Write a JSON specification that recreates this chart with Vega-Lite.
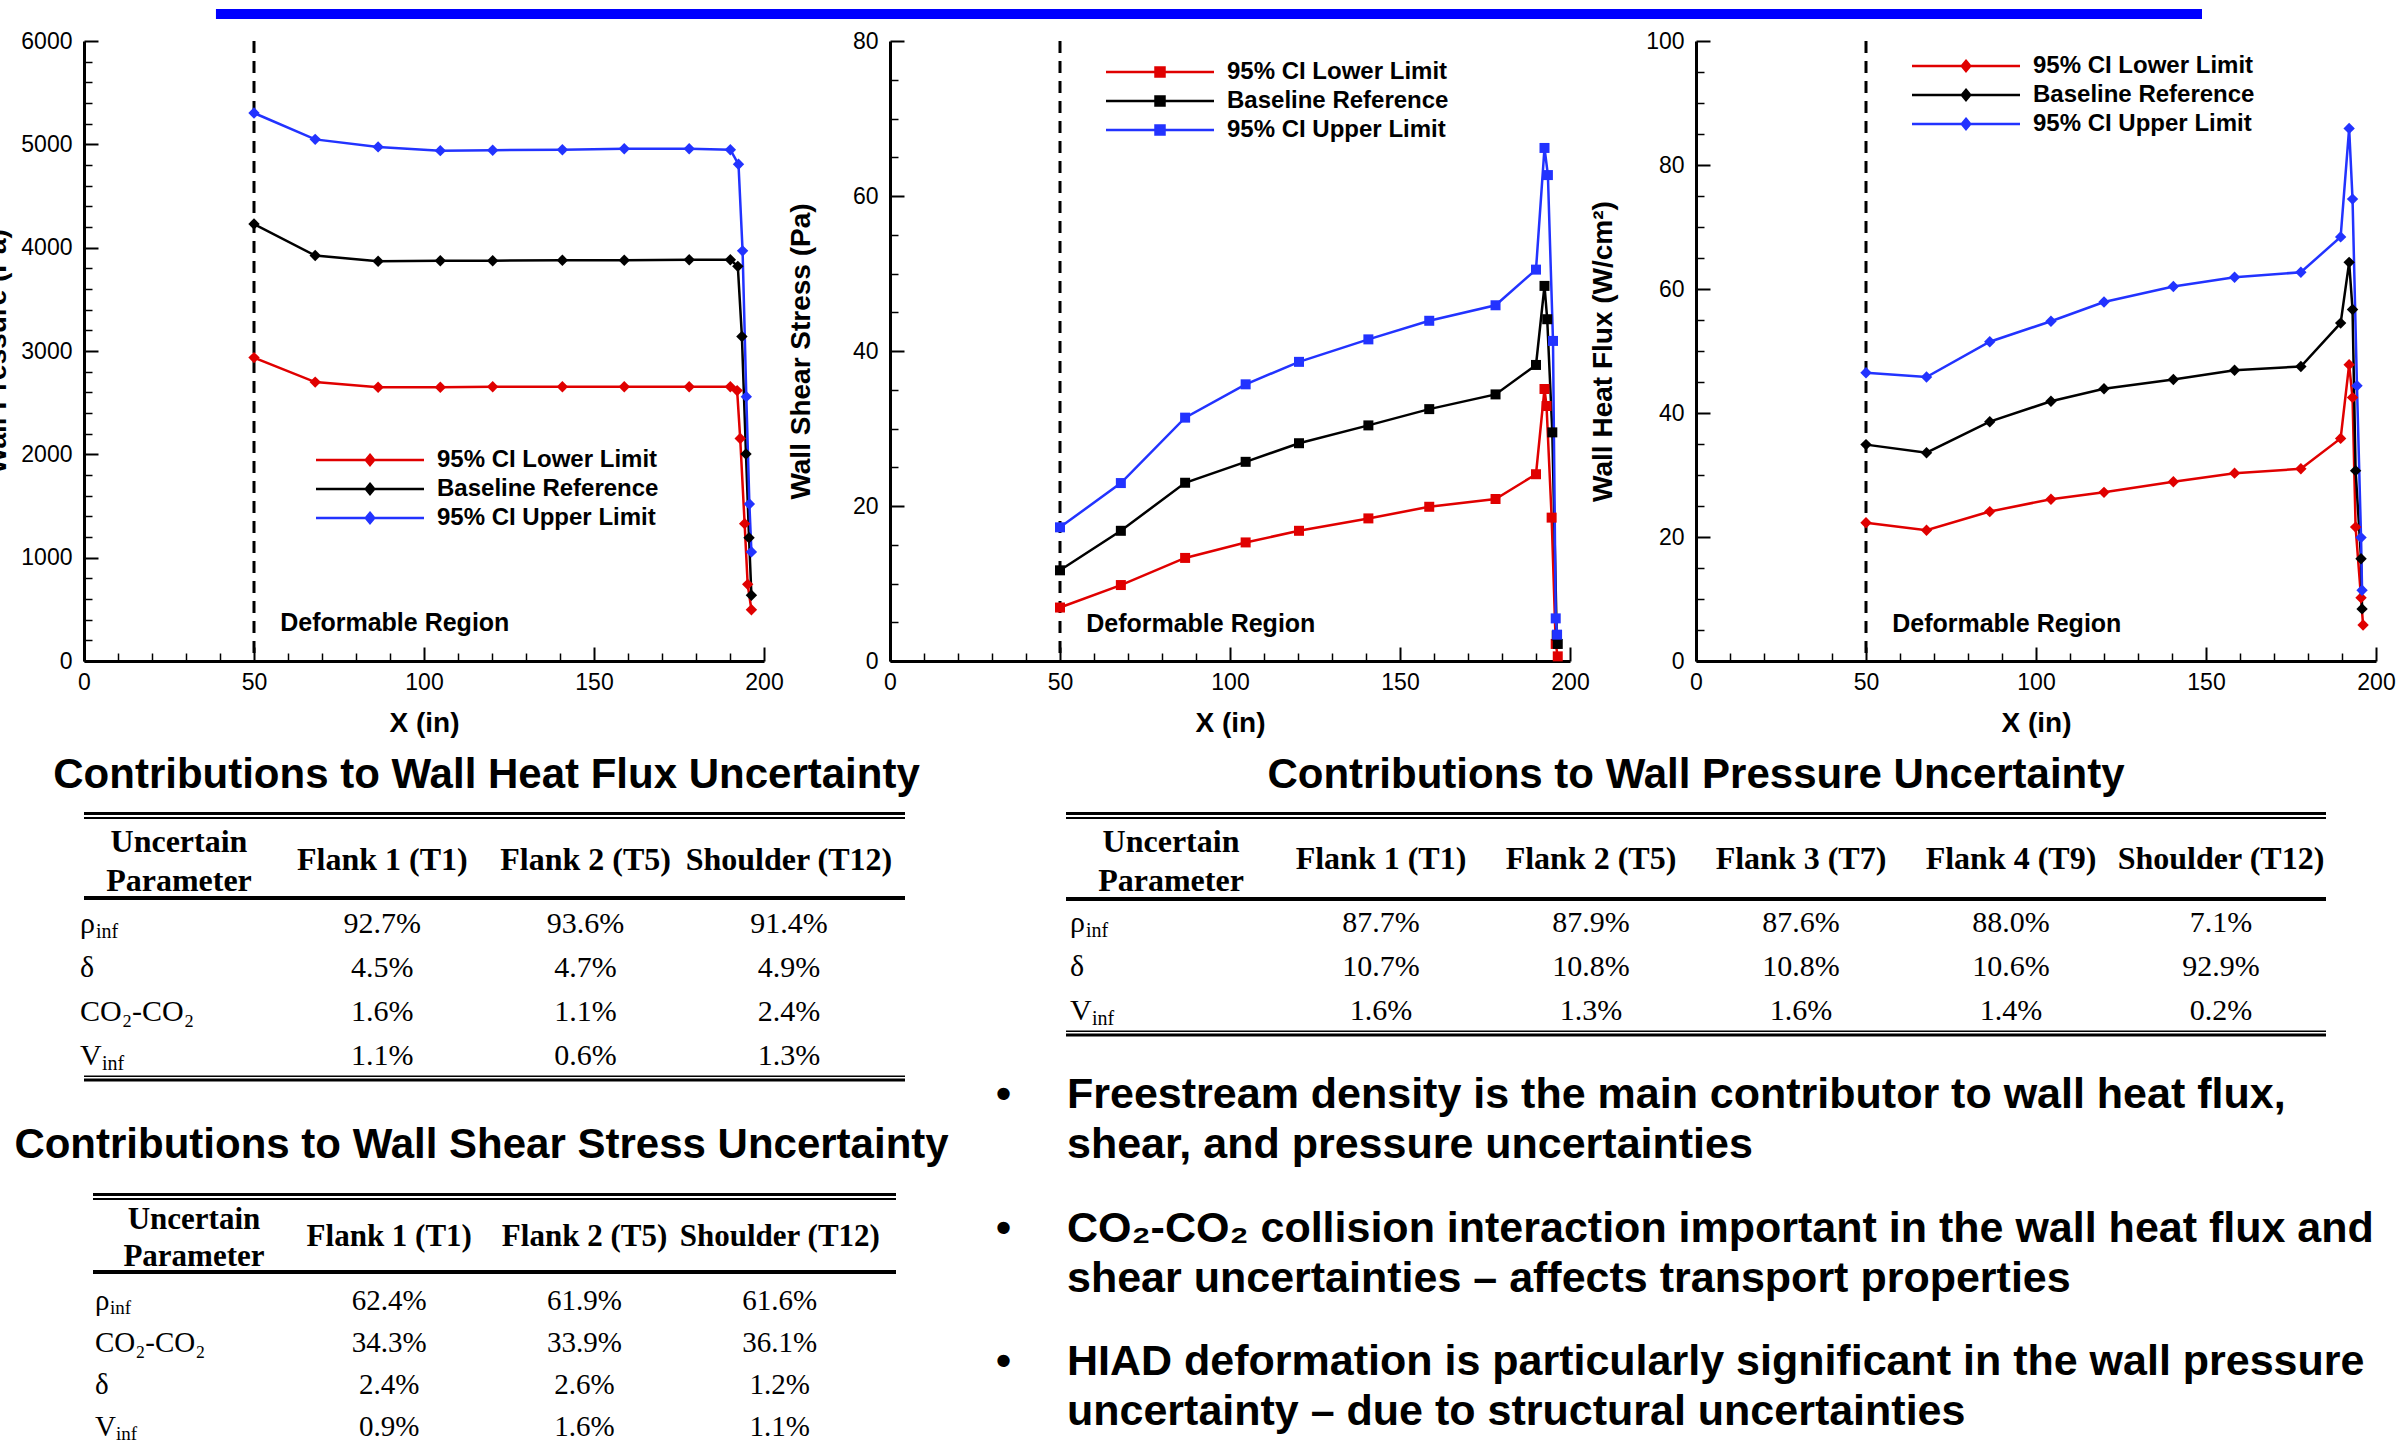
{
  "$schema": "https://vega.github.io/schema/vega-lite/v6.json",
  "background": "white",
  "padding": {"left": -17, "top": 9, "right": 0, "bottom": 0},
  "autosize": {"type": "pad"},
  "bounds": "flush",
  "spacing": 22,
  "datasets": {
    "t1lab": [{"r": 1, "p": "ρ", "s": "inf"}, {"r": 2, "p": "δ"}, {"r": 3, "p": "CO₂-CO₂"}, {"r": 4, "p": "V", "s": "inf"}],
    "t2lab": [{"r": 1, "p": "ρ", "s": "inf"}, {"r": 2, "p": "δ"}, {"r": 3, "p": "V", "s": "inf"}],
    "t3lab": [{"r": 1, "p": "ρ", "s": "inf"}, {"r": 2, "p": "CO₂-CO₂"}, {"r": 3, "p": "δ"}, {"r": 4, "p": "V", "s": "inf"}]
  },
  "vconcat": [
    {
      "width": 2118, "height": 10,
      "data": {"values": [{}]},
      "mark": {"type": "rect", "color": "#0000ff"},
      "encoding": {
        "x": {"datum": 0.0623, "type": "quantitative", "scale": {"domain": [0, 1]}, "axis": null},
        "x2": {"datum": 1},
        "y": {"datum": 0, "type": "quantitative", "scale": {"domain": [0, 1]}, "axis": null},
        "y2": {"datum": 1}
      }
    },
    {
      "bounds": "flush",
      "spacing": 771,
      "vconcat": [
        {
          "bounds": "flush",
          "spacing": 126,
          "resolve": {"scale": {"color": "independent"}, "legend": {"color": "independent"}},
          "hconcat": [
            {
              "width": 680, "height": 620,
              "data": {"values": [
                {"x": 50, "y": 2936, "s": "95% CI Lower Limit"}, {"x": 68, "y": 2699, "s": "95% CI Lower Limit"}, {"x": 86.5, "y": 2649, "s": "95% CI Lower Limit"}, {"x": 104.8, "y": 2649, "s": "95% CI Lower Limit"}, {"x": 120.2, "y": 2654, "s": "95% CI Lower Limit"}, {"x": 140.7, "y": 2654, "s": "95% CI Lower Limit"}, {"x": 158.9, "y": 2654, "s": "95% CI Lower Limit"}, {"x": 178, "y": 2654, "s": "95% CI Lower Limit"}, {"x": 190.1, "y": 2654, "s": "95% CI Lower Limit"}, {"x": 192.1, "y": 2617, "s": "95% CI Lower Limit"}, {"x": 193, "y": 2153, "s": "95% CI Lower Limit"}, {"x": 194.3, "y": 1329, "s": "95% CI Lower Limit"}, {"x": 195.2, "y": 742, "s": "95% CI Lower Limit"}, {"x": 196.3, "y": 496, "s": "95% CI Lower Limit"},
                {"x": 50, "y": 4229, "s": "Baseline Reference"}, {"x": 68, "y": 3924, "s": "Baseline Reference"}, {"x": 86.5, "y": 3869, "s": "Baseline Reference"}, {"x": 104.8, "y": 3874, "s": "Baseline Reference"}, {"x": 120.2, "y": 3874, "s": "Baseline Reference"}, {"x": 140.7, "y": 3878, "s": "Baseline Reference"}, {"x": 158.9, "y": 3878, "s": "Baseline Reference"}, {"x": 178, "y": 3883, "s": "Baseline Reference"}, {"x": 190.1, "y": 3883, "s": "Baseline Reference"}, {"x": 192.3, "y": 3819, "s": "Baseline Reference"}, {"x": 193.5, "y": 3141, "s": "Baseline Reference"}, {"x": 194.7, "y": 2003, "s": "Baseline Reference"}, {"x": 195.6, "y": 1193, "s": "Baseline Reference"}, {"x": 196.3, "y": 637, "s": "Baseline Reference"},
                {"x": 50, "y": 5303, "s": "95% CI Upper Limit"}, {"x": 68, "y": 5048, "s": "95% CI Upper Limit"}, {"x": 86.5, "y": 4975, "s": "95% CI Upper Limit"}, {"x": 104.8, "y": 4939, "s": "95% CI Upper Limit"}, {"x": 120.2, "y": 4943, "s": "95% CI Upper Limit"}, {"x": 140.7, "y": 4948, "s": "95% CI Upper Limit"}, {"x": 158.9, "y": 4957, "s": "95% CI Upper Limit"}, {"x": 178, "y": 4957, "s": "95% CI Upper Limit"}, {"x": 190.1, "y": 4948, "s": "95% CI Upper Limit"}, {"x": 192.5, "y": 4807, "s": "95% CI Upper Limit"}, {"x": 193.7, "y": 3969, "s": "95% CI Upper Limit"}, {"x": 194.8, "y": 2558, "s": "95% CI Upper Limit"}, {"x": 195.7, "y": 1520, "s": "95% CI Upper Limit"}, {"x": 196.3, "y": 1056, "s": "95% CI Upper Limit"}
              ]},
              "layer": [
                {
                  "data": {"values": [{}]},
                  "mark": {"type": "rule", "strokeDash": [12, 8], "strokeWidth": 3, "color": "#000000"},
                  "encoding": {"x": {"datum": 50, "type": "quantitative", "scale": {"domain": [0, 200], "nice": false}, "axis": null}}
                },
                {
                  "mark": {"type": "line", "strokeWidth": 2.5, "point": {"filled": true, "shape": "diamond", "size": 130}},
                  "encoding": {
                    "x": {"field": "x", "type": "quantitative", "scale": {"domain": [0, 200], "nice": false}, "axis": {"values": [0, 50, 100, 150, 200], "title": "X (in)", "format": "d", "tickSize": -14, "labelPadding": 24, "titlePadding": 15}},
                    "y": {"field": "y", "type": "quantitative", "scale": {"domain": [0, 6000], "nice": false}, "axis": {"values": [0, 1000, 2000, 3000, 4000, 5000, 6000], "title": "Wall Pressure (Pa)", "format": "d", "tickSize": -14, "labelPadding": 26, "titlePadding": 9}},
                    "color": {"field": "s", "type": "nominal", "scale": {"domain": ["95% CI Lower Limit", "Baseline Reference", "95% CI Upper Limit"], "range": ["#e00000", "#000000", "#2233ff"]},
                      "legend": {"title": null, "orient": "none", "legendX": 322, "legendY": 407, "symbolType": "M-17,0L1,0M-8,-0.85L-7.3,0L-8,0.85L-8.7,0Z",
                        "encode": {"symbols": {"update": {"fill": {"signal": "datum.value === '95% CI Lower Limit' ? '#e00000' : (datum.value === 'Baseline Reference' ? '#000000' : '#2233ff')"}, "stroke": {"signal": "datum.value === '95% CI Lower Limit' ? '#e00000' : (datum.value === 'Baseline Reference' ? '#000000' : '#2233ff')"}}}}}}
                  }
                },
                {
                  "data": {"values": [{}]},
                  "mark": {"type": "text", "text": "Deformable Region", "align": "left", "baseline": "middle", "fontSize": 25, "fontWeight": "bold", "font": "Liberation Sans", "color": "#000000"},
                  "encoding": {"x": {"datum": 57.7, "type": "quantitative", "axis": null}, "y": {"datum": 367, "type": "quantitative", "axis": null}}
                },
                {
                  "data": {"values": [{}]},
                  "mark": {"type": "point", "opacity": 0},
                  "encoding": {
                    "x": {"datum": 0, "type": "quantitative", "axis": {"values": [10, 20, 30, 40, 60, 70, 80, 90, 110, 120, 130, 140, 160, 170, 180, 190], "orient": "bottom", "labels": false, "domain": false, "title": null, "tickSize": -8, "tickWidth": 1.5}},
                    "y": {"datum": 0, "type": "quantitative", "axis": {"values": [200, 400, 600, 800, 1200, 1400, 1600, 1800, 2200, 2400, 2600, 2800, 3200, 3400, 3600, 3800, 4200, 4400, 4600, 4800, 5200, 5400, 5600, 5800], "orient": "left", "labels": false, "domain": false, "title": null, "tickSize": -8, "tickWidth": 1.5}}
                  }
                }
              ],
              "resolve": {"axis": {"x": "independent", "y": "independent"}}
            },
            {
              "width": 680, "height": 620,
              "data": {"values": [
                {"x": 50, "y": 6.9, "s": "95% CI Lower Limit"}, {"x": 67.9, "y": 9.8, "s": "95% CI Lower Limit"}, {"x": 86.8, "y": 13.3, "s": "95% CI Lower Limit"}, {"x": 104.6, "y": 15.3, "s": "95% CI Lower Limit"}, {"x": 120.3, "y": 16.8, "s": "95% CI Lower Limit"}, {"x": 140.7, "y": 18.4, "s": "95% CI Lower Limit"}, {"x": 158.6, "y": 19.9, "s": "95% CI Lower Limit"}, {"x": 178.1, "y": 20.9, "s": "95% CI Lower Limit"}, {"x": 190, "y": 24.1, "s": "95% CI Lower Limit"}, {"x": 192.5, "y": 35.1, "s": "95% CI Lower Limit"}, {"x": 193.1, "y": 32.9, "s": "95% CI Lower Limit"}, {"x": 194.6, "y": 18.5, "s": "95% CI Lower Limit"}, {"x": 195.8, "y": 2.2, "s": "95% CI Lower Limit"}, {"x": 196.4, "y": 0.6, "s": "95% CI Lower Limit"},
                {"x": 50, "y": 11.7, "s": "Baseline Reference"}, {"x": 67.9, "y": 16.8, "s": "Baseline Reference"}, {"x": 86.8, "y": 23.0, "s": "Baseline Reference"}, {"x": 104.6, "y": 25.7, "s": "Baseline Reference"}, {"x": 120.3, "y": 28.1, "s": "Baseline Reference"}, {"x": 140.7, "y": 30.4, "s": "Baseline Reference"}, {"x": 158.6, "y": 32.5, "s": "Baseline Reference"}, {"x": 178.1, "y": 34.4, "s": "Baseline Reference"}, {"x": 190, "y": 38.2, "s": "Baseline Reference"}, {"x": 192.5, "y": 48.4, "s": "Baseline Reference"}, {"x": 193.3, "y": 44.1, "s": "Baseline Reference"}, {"x": 194.8, "y": 29.5, "s": "Baseline Reference"}, {"x": 196.1, "y": 3.3, "s": "Baseline Reference"}, {"x": 196.4, "y": 2.2, "s": "Baseline Reference"},
                {"x": 50, "y": 17.25, "s": "95% CI Upper Limit"}, {"x": 67.9, "y": 22.96, "s": "95% CI Upper Limit"}, {"x": 86.8, "y": 31.4, "s": "95% CI Upper Limit"}, {"x": 104.6, "y": 35.7, "s": "95% CI Upper Limit"}, {"x": 120.3, "y": 38.6, "s": "95% CI Upper Limit"}, {"x": 140.7, "y": 41.5, "s": "95% CI Upper Limit"}, {"x": 158.6, "y": 43.9, "s": "95% CI Upper Limit"}, {"x": 178.1, "y": 45.9, "s": "95% CI Upper Limit"}, {"x": 190, "y": 50.5, "s": "95% CI Upper Limit"}, {"x": 192.5, "y": 66.2, "s": "95% CI Upper Limit"}, {"x": 193.5, "y": 62.7, "s": "95% CI Upper Limit"}, {"x": 195, "y": 41.3, "s": "95% CI Upper Limit"}, {"x": 195.8, "y": 5.5, "s": "95% CI Upper Limit"}, {"x": 196.2, "y": 3.4, "s": "95% CI Upper Limit"}
              ]},
              "layer": [
                {
                  "data": {"values": [{}]},
                  "mark": {"type": "rule", "strokeDash": [12, 8], "strokeWidth": 3, "color": "#000000"},
                  "encoding": {"x": {"datum": 50, "type": "quantitative", "scale": {"domain": [0, 200], "nice": false}, "axis": null}}
                },
                {
                  "mark": {"type": "line", "strokeWidth": 2.5, "point": {"filled": true, "shape": "square", "size": 100}},
                  "encoding": {
                    "x": {"field": "x", "type": "quantitative", "scale": {"domain": [0, 200], "nice": false}, "axis": {"values": [0, 50, 100, 150, 200], "title": "X (in)", "format": "d", "tickSize": -14, "labelPadding": 24, "titlePadding": 15}},
                    "y": {"field": "y", "type": "quantitative", "scale": {"domain": [0, 80], "nice": false}, "axis": {"values": [0, 20, 40, 60, 80], "title": "Wall Shear Stress (Pa)", "format": "d", "tickSize": -14, "labelPadding": 26, "titlePadding": 37}},
                    "color": {"field": "s", "type": "nominal", "scale": {"domain": ["95% CI Lower Limit", "Baseline Reference", "95% CI Upper Limit"], "range": ["#e00000", "#000000", "#2233ff"]},
                      "legend": {"title": null, "orient": "none", "legendX": 306, "legendY": 19, "symbolType": "M-17,0L1,0M-8.75,-0.75L-7.25,-0.75L-7.25,0.75L-8.75,0.75Z",
                        "encode": {"symbols": {"update": {"fill": {"signal": "datum.value === '95% CI Lower Limit' ? '#e00000' : (datum.value === 'Baseline Reference' ? '#000000' : '#2233ff')"}, "stroke": {"signal": "datum.value === '95% CI Lower Limit' ? '#e00000' : (datum.value === 'Baseline Reference' ? '#000000' : '#2233ff')"}}}}}}
                  }
                },
                {
                  "data": {"values": [{}]},
                  "mark": {"type": "text", "text": "Deformable Region", "align": "left", "baseline": "middle", "fontSize": 25, "fontWeight": "bold", "font": "Liberation Sans", "color": "#000000"},
                  "encoding": {"x": {"datum": 57.7, "type": "quantitative", "axis": null}, "y": {"datum": 4.8, "type": "quantitative", "axis": null}}
                },
                {
                  "data": {"values": [{}]},
                  "mark": {"type": "point", "opacity": 0},
                  "encoding": {
                    "x": {"datum": 0, "type": "quantitative", "axis": {"values": [10, 20, 30, 40, 60, 70, 80, 90, 110, 120, 130, 140, 160, 170, 180, 190], "orient": "bottom", "labels": false, "domain": false, "title": null, "tickSize": -8, "tickWidth": 1.5}},
                    "y": {"datum": 0, "type": "quantitative", "axis": {"values": [5, 10, 15, 25, 30, 35, 45, 50, 55, 65, 70, 75], "orient": "left", "labels": false, "domain": false, "title": null, "tickSize": -8, "tickWidth": 1.5}}
                  }
                }
              ],
              "resolve": {"axis": {"x": "independent", "y": "independent"}}
            },
            {
              "width": 680, "height": 620,
              "data": {"values": [
                {"x": 50, "y": 22.3, "s": "95% CI Lower Limit"}, {"x": 67.8, "y": 21.1, "s": "95% CI Lower Limit"}, {"x": 86.4, "y": 24.1, "s": "95% CI Lower Limit"}, {"x": 104.4, "y": 26.1, "s": "95% CI Lower Limit"}, {"x": 120, "y": 27.2, "s": "95% CI Lower Limit"}, {"x": 140.4, "y": 28.9, "s": "95% CI Lower Limit"}, {"x": 158.4, "y": 30.3, "s": "95% CI Lower Limit"}, {"x": 177.9, "y": 31.0, "s": "95% CI Lower Limit"}, {"x": 189.6, "y": 35.9, "s": "95% CI Lower Limit"}, {"x": 192.1, "y": 47.8, "s": "95% CI Lower Limit"}, {"x": 193.1, "y": 42.5, "s": "95% CI Lower Limit"}, {"x": 194, "y": 21.6, "s": "95% CI Lower Limit"}, {"x": 195.6, "y": 10.2, "s": "95% CI Lower Limit"}, {"x": 196.2, "y": 5.8, "s": "95% CI Lower Limit"},
                {"x": 50, "y": 34.9, "s": "Baseline Reference"}, {"x": 67.8, "y": 33.6, "s": "Baseline Reference"}, {"x": 86.4, "y": 38.6, "s": "Baseline Reference"}, {"x": 104.4, "y": 41.9, "s": "Baseline Reference"}, {"x": 120, "y": 43.9, "s": "Baseline Reference"}, {"x": 140.4, "y": 45.4, "s": "Baseline Reference"}, {"x": 158.4, "y": 46.9, "s": "Baseline Reference"}, {"x": 177.9, "y": 47.5, "s": "Baseline Reference"}, {"x": 189.6, "y": 54.5, "s": "Baseline Reference"}, {"x": 192.1, "y": 64.3, "s": "Baseline Reference"}, {"x": 193.1, "y": 56.7, "s": "Baseline Reference"}, {"x": 194, "y": 30.7, "s": "Baseline Reference"}, {"x": 195.6, "y": 16.5, "s": "Baseline Reference"}, {"x": 195.9, "y": 8.4, "s": "Baseline Reference"},
                {"x": 50, "y": 46.5, "s": "95% CI Upper Limit"}, {"x": 67.8, "y": 45.8, "s": "95% CI Upper Limit"}, {"x": 86.4, "y": 51.5, "s": "95% CI Upper Limit"}, {"x": 104.4, "y": 54.8, "s": "95% CI Upper Limit"}, {"x": 120, "y": 57.9, "s": "95% CI Upper Limit"}, {"x": 140.4, "y": 60.4, "s": "95% CI Upper Limit"}, {"x": 158.4, "y": 61.9, "s": "95% CI Upper Limit"}, {"x": 177.9, "y": 62.7, "s": "95% CI Upper Limit"}, {"x": 189.6, "y": 68.4, "s": "95% CI Upper Limit"}, {"x": 192.1, "y": 85.9, "s": "95% CI Upper Limit"}, {"x": 193.1, "y": 74.5, "s": "95% CI Upper Limit"}, {"x": 194.4, "y": 44.4, "s": "95% CI Upper Limit"}, {"x": 195.6, "y": 19.9, "s": "95% CI Upper Limit"}, {"x": 195.9, "y": 11.4, "s": "95% CI Upper Limit"}
              ]},
              "layer": [
                {
                  "data": {"values": [{}]},
                  "mark": {"type": "rule", "strokeDash": [12, 8], "strokeWidth": 3, "color": "#000000"},
                  "encoding": {"x": {"datum": 50, "type": "quantitative", "scale": {"domain": [0, 200], "nice": false}, "axis": null}}
                },
                {
                  "mark": {"type": "line", "strokeWidth": 2.5, "point": {"filled": true, "shape": "diamond", "size": 130}},
                  "encoding": {
                    "x": {"field": "x", "type": "quantitative", "scale": {"domain": [0, 200], "nice": false}, "axis": {"values": [0, 50, 100, 150, 200], "title": "X (in)", "format": "d", "tickSize": -14, "labelPadding": 24, "titlePadding": 15}},
                    "y": {"field": "y", "type": "quantitative", "scale": {"domain": [0, 100], "nice": false}, "axis": {"values": [0, 20, 40, 60, 80, 100], "title": "Wall Heat Flux (W/cm²)", "format": "d", "tickSize": -14, "labelPadding": 26, "titlePadding": 28}},
                    "color": {"field": "s", "type": "nominal", "scale": {"domain": ["95% CI Lower Limit", "Baseline Reference", "95% CI Upper Limit"], "range": ["#e00000", "#000000", "#2233ff"]},
                      "legend": {"title": null, "orient": "none", "legendX": 306, "legendY": 13, "symbolType": "M-17,0L1,0M-8,-0.85L-7.3,0L-8,0.85L-8.7,0Z",
                        "encode": {"symbols": {"update": {"fill": {"signal": "datum.value === '95% CI Lower Limit' ? '#e00000' : (datum.value === 'Baseline Reference' ? '#000000' : '#2233ff')"}, "stroke": {"signal": "datum.value === '95% CI Lower Limit' ? '#e00000' : (datum.value === 'Baseline Reference' ? '#000000' : '#2233ff')"}}}}}}
                  }
                },
                {
                  "data": {"values": [{}]},
                  "mark": {"type": "text", "text": "Deformable Region", "align": "left", "baseline": "middle", "fontSize": 25, "fontWeight": "bold", "font": "Liberation Sans", "color": "#000000"},
                  "encoding": {"x": {"datum": 57.7, "type": "quantitative", "axis": null}, "y": {"datum": 6, "type": "quantitative", "axis": null}}
                },
                {
                  "data": {"values": [{}]},
                  "mark": {"type": "point", "opacity": 0},
                  "encoding": {
                    "x": {"datum": 0, "type": "quantitative", "axis": {"values": [10, 20, 30, 40, 60, 70, 80, 90, 110, 120, 130, 140, 160, 170, 180, 190], "orient": "bottom", "labels": false, "domain": false, "title": null, "tickSize": -8, "tickWidth": 1.5}},
                    "y": {"datum": 0, "type": "quantitative", "axis": {"values": [5, 10, 15, 25, 30, 35, 45, 50, 55, 65, 70, 75, 85, 90, 95], "orient": "left", "labels": false, "domain": false, "title": null, "tickSize": -8, "tickWidth": 1.5}}
                  }
                }
              ],
              "resolve": {"axis": {"x": "independent", "y": "independent"}}
            }
          ]
        },
        {
          "bounds": "flush",
          "spacing": 912,
          "hconcat": [
            {
              "bounds": "flush",
              "center": true,
              "spacing": 111,
              "vconcat": [
                {
                  "title": {"text": "Contributions to Wall Heat Flux Uncertainty", "offset": 15, "dx": -8},
                  "width": 821, "height": 270,
                  "layer": [
                    {"data": {"values": [{}]}, "mark": {"type": "rule", "strokeWidth": 3, "color": "#000000"}, "encoding": {"y": {"datum": -1.466, "type": "quantitative", "scale": {"domain": [-1.5, 4.6], "reverse": true, "nice": false, "zero": false}, "axis": null}}},
                    {"data": {"values": [{}]}, "mark": {"type": "rule", "strokeWidth": 2, "color": "#000000"}, "encoding": {"y": {"datum": -1.365, "type": "quantitative", "scale": {"domain": [-1.5, 4.6], "reverse": true, "nice": false, "zero": false}, "axis": null}}},
                    {"data": {"values": [{}]}, "mark": {"type": "rule", "strokeWidth": 4, "color": "#000000"}, "encoding": {"y": {"datum": 0.441, "type": "quantitative", "scale": {"domain": [-1.5, 4.6], "reverse": true, "nice": false, "zero": false}, "axis": null}}},
                    {"data": {"values": [{}]}, "mark": {"type": "rule", "strokeWidth": 1.5, "color": "#000000"}, "encoding": {"y": {"datum": 4.47, "type": "quantitative", "scale": {"domain": [-1.5, 4.6], "reverse": true, "nice": false, "zero": false}, "axis": null}}},
                    {"data": {"values": [{}]}, "mark": {"type": "rule", "strokeWidth": 3, "color": "#000000"}, "encoding": {"y": {"datum": 4.555, "type": "quantitative", "scale": {"domain": [-1.5, 4.6], "reverse": true, "nice": false, "zero": false}, "axis": null}}},
                    {
                      "data": {"values": [{"c": "Flank 1 (T1)"}, {"c": "Flank 2 (T5)"}, {"c": "Shoulder (T12)"}]},
                      "mark": {"type": "text", "font": "Liberation Serif", "fontSize": 32, "fontWeight": "bold", "baseline": "middle", "dy": 0, "color": "#000000"},
                      "encoding": {
                        "x": {"field": "c", "type": "nominal", "scale": {"type": "point", "domain": ["Uncertain Parameter", "Flank 1 (T1)", "Flank 2 (T5)", "Shoulder (T12)"], "padding": 0.519, "align": 0.45}, "axis": null},
                        "y": {"datum": -0.42, "type": "quantitative", "scale": {"domain": [-1.5, 4.6], "reverse": true, "nice": false, "zero": false}, "axis": null},
                        "text": {"field": "c"}
                      }
                    },
                    {
                      "data": {"values": [{"c": "Uncertain Parameter", "h": "Uncertain\nParameter"}]},
                      "mark": {"type": "text", "font": "Liberation Serif", "fontSize": 32, "fontWeight": "bold", "lineBreak": "\n", "lineHeight": 39, "baseline": "middle", "dy": 1, "color": "#000000"},
                      "encoding": {
                        "x": {"field": "c", "type": "nominal", "scale": {"type": "point", "domain": ["Uncertain Parameter", "Flank 1 (T1)", "Flank 2 (T5)", "Shoulder (T12)"], "padding": 0.519, "align": 0.45}, "axis": null},
                        "y": {"datum": -0.85, "type": "quantitative", "scale": {"domain": [-1.5, 4.6], "reverse": true, "nice": false, "zero": false}, "axis": null},
                        "text": {"field": "h"}
                      }
                    },
                    {
                      "data": {"values": [
                        {"r": 1, "c": "Flank 1 (T1)", "v": "92.7%"}, {"r": 1, "c": "Flank 2 (T5)", "v": "93.6%"}, {"r": 1, "c": "Shoulder (T12)", "v": "91.4%"},
                        {"r": 2, "c": "Flank 1 (T1)", "v": "4.5%"}, {"r": 2, "c": "Flank 2 (T5)", "v": "4.7%"}, {"r": 2, "c": "Shoulder (T12)", "v": "4.9%"},
                        {"r": 3, "c": "Flank 1 (T1)", "v": "1.6%"}, {"r": 3, "c": "Flank 2 (T5)", "v": "1.1%"}, {"r": 3, "c": "Shoulder (T12)", "v": "2.4%"},
                        {"r": 4, "c": "Flank 1 (T1)", "v": "1.1%"}, {"r": 4, "c": "Flank 2 (T5)", "v": "0.6%"}, {"r": 4, "c": "Shoulder (T12)", "v": "1.3%"}
                      ]},
                      "mark": {"type": "text", "font": "Liberation Serif", "fontSize": 30, "baseline": "middle", "dy": 1, "color": "#000000"},
                      "encoding": {
                        "x": {"field": "c", "type": "nominal", "scale": {"type": "point", "domain": ["Uncertain Parameter", "Flank 1 (T1)", "Flank 2 (T5)", "Shoulder (T12)"], "padding": 0.519, "align": 0.45}, "axis": null},
                        "y": {"field": "r", "type": "quantitative", "scale": {"domain": [-1.5, 4.6], "reverse": true, "nice": false, "zero": false}, "axis": null},
                        "text": {"field": "v"}
                      }
                    },
                    {
                      "data": {"name": "t1lab"},
                      "mark": {"type": "text", "font": "Liberation Serif", "fontSize": 30, "align": "left", "baseline": "middle", "dx": -99, "dy": 1, "color": "#000000"},
                      "encoding": {
                        "x": {"datum": "Uncertain Parameter", "type": "nominal", "scale": {"type": "point", "domain": ["Uncertain Parameter", "Flank 1 (T1)", "Flank 2 (T5)", "Shoulder (T12)"], "padding": 0.519, "align": 0.45}, "axis": null},
                        "y": {"field": "r", "type": "quantitative", "scale": {"domain": [-1.5, 4.6], "reverse": true, "nice": false, "zero": false}, "axis": null},
                        "text": {"field": "p"}
                      }
                    },
                    {
                      "data": {"name": "t1lab"},
                      "transform": [{"filter": "datum.p === 'ρ'"}],
                      "mark": {"type": "text", "font": "Liberation Serif", "fontSize": 20, "align": "left", "baseline": "middle", "dx": -83, "dy": 9, "color": "#000000"},
                      "encoding": {
                        "x": {"datum": "Uncertain Parameter", "type": "nominal", "scale": {"type": "point", "domain": ["Uncertain Parameter", "Flank 1 (T1)", "Flank 2 (T5)", "Shoulder (T12)"], "padding": 0.519, "align": 0.45}, "axis": null},
                        "y": {"field": "r", "type": "quantitative", "scale": {"domain": [-1.5, 4.6], "reverse": true, "nice": false, "zero": false}, "axis": null},
                        "text": {"field": "s"}
                      }
                    },
                    {
                      "data": {"name": "t1lab"},
                      "transform": [{"filter": "datum.p === 'V'"}],
                      "mark": {"type": "text", "font": "Liberation Serif", "fontSize": 20, "align": "left", "baseline": "middle", "dx": -77, "dy": 9, "color": "#000000"},
                      "encoding": {
                        "x": {"datum": "Uncertain Parameter", "type": "nominal", "scale": {"type": "point", "domain": ["Uncertain Parameter", "Flank 1 (T1)", "Flank 2 (T5)", "Shoulder (T12)"], "padding": 0.519, "align": 0.45}, "axis": null},
                        "y": {"field": "r", "type": "quantitative", "scale": {"domain": [-1.5, 4.6], "reverse": true, "nice": false, "zero": false}, "axis": null},
                        "text": {"field": "s"}
                      }
                    }
                  ]
                },
                {
                  "title": {"text": "Contributions to Wall Shear Stress Uncertainty", "offset": 26, "dx": -13},
                  "width": 803, "height": 256,
                  "layer": [
                    {"data": {"values": [{}]}, "mark": {"type": "rule", "strokeWidth": 3, "color": "#000000"}, "encoding": {"y": {"datum": -1.464, "type": "quantitative", "scale": {"domain": [-1.5, 4.6], "reverse": true, "nice": false, "zero": false}, "axis": null}}},
                    {"data": {"values": [{}]}, "mark": {"type": "rule", "strokeWidth": 2, "color": "#000000"}, "encoding": {"y": {"datum": -1.357, "type": "quantitative", "scale": {"domain": [-1.5, 4.6], "reverse": true, "nice": false, "zero": false}, "axis": null}}},
                    {"data": {"values": [{}]}, "mark": {"type": "rule", "strokeWidth": 4, "color": "#000000"}, "encoding": {"y": {"datum": 0.38, "type": "quantitative", "scale": {"domain": [-1.5, 4.6], "reverse": true, "nice": false, "zero": false}, "axis": null}}},
                    {"data": {"values": [{}]}, "mark": {"type": "rule", "strokeWidth": 1.5, "color": "#000000"}, "encoding": {"y": {"datum": 4.46, "type": "quantitative", "scale": {"domain": [-1.5, 4.6], "reverse": true, "nice": false, "zero": false}, "axis": null}}},
                    {"data": {"values": [{}]}, "mark": {"type": "rule", "strokeWidth": 3, "color": "#000000"}, "encoding": {"y": {"datum": 4.54, "type": "quantitative", "scale": {"domain": [-1.5, 4.6], "reverse": true, "nice": false, "zero": false}, "axis": null}}},
                    {
                      "data": {"values": [{"c": "Flank 1 (T1)"}, {"c": "Flank 2 (T5)"}, {"c": "Shoulder (T12)"}]},
                      "mark": {"type": "text", "font": "Liberation Serif", "fontSize": 31, "fontWeight": "bold", "baseline": "middle", "dy": 3, "color": "#000000"},
                      "encoding": {
                        "x": {"field": "c", "type": "nominal", "scale": {"type": "point", "domain": ["Uncertain Parameter", "Flank 1 (T1)", "Flank 2 (T5)", "Shoulder (T12)"], "padding": 0.556, "align": 0.465}, "axis": null},
                        "y": {"datum": -0.524, "type": "quantitative", "scale": {"domain": [-1.5, 4.6], "reverse": true, "nice": false, "zero": false}, "axis": null},
                        "text": {"field": "c"}
                      }
                    },
                    {
                      "data": {"values": [{"c": "Uncertain Parameter", "h": "Uncertain\nParameter"}]},
                      "mark": {"type": "text", "font": "Liberation Serif", "fontSize": 31, "fontWeight": "bold", "lineBreak": "\n", "lineHeight": 37, "baseline": "middle", "dy": 3, "color": "#000000"},
                      "encoding": {
                        "x": {"field": "c", "type": "nominal", "scale": {"type": "point", "domain": ["Uncertain Parameter", "Flank 1 (T1)", "Flank 2 (T5)", "Shoulder (T12)"], "padding": 0.556, "align": 0.465}, "axis": null},
                        "y": {"datum": -0.93, "type": "quantitative", "scale": {"domain": [-1.5, 4.6], "reverse": true, "nice": false, "zero": false}, "axis": null},
                        "text": {"field": "h"}
                      }
                    },
                    {
                      "data": {"values": [
                        {"r": 1, "c": "Flank 1 (T1)", "v": "62.4%"}, {"r": 1, "c": "Flank 2 (T5)", "v": "61.9%"}, {"r": 1, "c": "Shoulder (T12)", "v": "61.6%"},
                        {"r": 2, "c": "Flank 1 (T1)", "v": "34.3%"}, {"r": 2, "c": "Flank 2 (T5)", "v": "33.9%"}, {"r": 2, "c": "Shoulder (T12)", "v": "36.1%"},
                        {"r": 3, "c": "Flank 1 (T1)", "v": "2.4%"}, {"r": 3, "c": "Flank 2 (T5)", "v": "2.6%"}, {"r": 3, "c": "Shoulder (T12)", "v": "1.2%"},
                        {"r": 4, "c": "Flank 1 (T1)", "v": "0.9%"}, {"r": 4, "c": "Flank 2 (T5)", "v": "1.6%"}, {"r": 4, "c": "Shoulder (T12)", "v": "1.1%"}
                      ]},
                      "mark": {"type": "text", "font": "Liberation Serif", "fontSize": 29, "baseline": "middle", "dy": 3, "color": "#000000"},
                      "encoding": {
                        "x": {"field": "c", "type": "nominal", "scale": {"type": "point", "domain": ["Uncertain Parameter", "Flank 1 (T1)", "Flank 2 (T5)", "Shoulder (T12)"], "padding": 0.556, "align": 0.465}, "axis": null},
                        "y": {"field": "r", "type": "quantitative", "scale": {"domain": [-1.5, 4.6], "reverse": true, "nice": false, "zero": false}, "axis": null},
                        "text": {"field": "v"}
                      }
                    },
                    {
                      "data": {"name": "t3lab"},
                      "mark": {"type": "text", "font": "Liberation Serif", "fontSize": 29, "align": "left", "baseline": "middle", "dx": -99, "dy": 3, "color": "#000000"},
                      "encoding": {
                        "x": {"datum": "Uncertain Parameter", "type": "nominal", "scale": {"type": "point", "domain": ["Uncertain Parameter", "Flank 1 (T1)", "Flank 2 (T5)", "Shoulder (T12)"], "padding": 0.556, "align": 0.465}, "axis": null},
                        "y": {"field": "r", "type": "quantitative", "scale": {"domain": [-1.5, 4.6], "reverse": true, "nice": false, "zero": false}, "axis": null},
                        "text": {"field": "p"}
                      }
                    },
                    {
                      "data": {"name": "t3lab"},
                      "transform": [{"filter": "datum.p === 'ρ'"}],
                      "mark": {"type": "text", "font": "Liberation Serif", "fontSize": 19, "align": "left", "baseline": "middle", "dx": -84, "dy": 10, "color": "#000000"},
                      "encoding": {
                        "x": {"datum": "Uncertain Parameter", "type": "nominal", "scale": {"type": "point", "domain": ["Uncertain Parameter", "Flank 1 (T1)", "Flank 2 (T5)", "Shoulder (T12)"], "padding": 0.556, "align": 0.465}, "axis": null},
                        "y": {"field": "r", "type": "quantitative", "scale": {"domain": [-1.5, 4.6], "reverse": true, "nice": false, "zero": false}, "axis": null},
                        "text": {"field": "s"}
                      }
                    },
                    {
                      "data": {"name": "t3lab"},
                      "transform": [{"filter": "datum.p === 'V'"}],
                      "mark": {"type": "text", "font": "Liberation Serif", "fontSize": 19, "align": "left", "baseline": "middle", "dx": -78, "dy": 10, "color": "#000000"},
                      "encoding": {
                        "x": {"datum": "Uncertain Parameter", "type": "nominal", "scale": {"type": "point", "domain": ["Uncertain Parameter", "Flank 1 (T1)", "Flank 2 (T5)", "Shoulder (T12)"], "padding": 0.556, "align": 0.465}, "axis": null},
                        "y": {"field": "r", "type": "quantitative", "scale": {"domain": [-1.5, 4.6], "reverse": true, "nice": false, "zero": false}, "axis": null},
                        "text": {"field": "s"}
                      }
                    }
                  ]
                }
              ]
            },
            {
              "bounds": "flush",
              "spacing": 38,
              "vconcat": [
                {
                  "title": {"text": "Contributions to Wall Pressure Uncertainty", "offset": 15, "dx": 35},
                  "width": 1330, "height": 224,
                  "layer": [
                    {"data": {"values": [{}]}, "mark": {"type": "rule", "strokeWidth": 3, "color": "#000000"}, "encoding": {"x": {"datum": "Uncertain Parameter", "type": "nominal", "bandPosition": 0, "scale": {"type": "band", "domain": ["Uncertain Parameter", "Flank 1 (T1)", "Flank 2 (T5)", "Flank 3 (T7)", "Flank 4 (T9)", "Shoulder (T12)"], "paddingInner": 0, "paddingOuter": 0.1667, "align": 1}, "axis": null}, "x2": {"datum": "Shoulder (T12)", "bandPosition": 1}, "y": {"datum": -1.466, "type": "quantitative", "scale": {"domain": [-1.5, 3.6], "reverse": true, "nice": false, "zero": false}, "axis": null}}},
                    {"data": {"values": [{}]}, "mark": {"type": "rule", "strokeWidth": 2, "color": "#000000"}, "encoding": {"x": {"datum": "Uncertain Parameter", "type": "nominal", "bandPosition": 0, "scale": {"type": "band", "domain": ["Uncertain Parameter", "Flank 1 (T1)", "Flank 2 (T5)", "Flank 3 (T7)", "Flank 4 (T9)", "Shoulder (T12)"], "paddingInner": 0, "paddingOuter": 0.1667, "align": 1}, "axis": null}, "x2": {"datum": "Shoulder (T12)", "bandPosition": 1}, "y": {"datum": -1.364, "type": "quantitative", "scale": {"domain": [-1.5, 3.6], "reverse": true, "nice": false, "zero": false}, "axis": null}}},
                    {"data": {"values": [{}]}, "mark": {"type": "rule", "strokeWidth": 4, "color": "#000000"}, "encoding": {"x": {"datum": "Uncertain Parameter", "type": "nominal", "bandPosition": 0, "scale": {"type": "band", "domain": ["Uncertain Parameter", "Flank 1 (T1)", "Flank 2 (T5)", "Flank 3 (T7)", "Flank 4 (T9)", "Shoulder (T12)"], "paddingInner": 0, "paddingOuter": 0.1667, "align": 1}, "axis": null}, "x2": {"datum": "Shoulder (T12)", "bandPosition": 1}, "y": {"datum": 0.48, "type": "quantitative", "scale": {"domain": [-1.5, 3.6], "reverse": true, "nice": false, "zero": false}, "axis": null}}},
                    {"data": {"values": [{}]}, "mark": {"type": "rule", "strokeWidth": 1.5, "color": "#000000"}, "encoding": {"x": {"datum": "Uncertain Parameter", "type": "nominal", "bandPosition": 0, "scale": {"type": "band", "domain": ["Uncertain Parameter", "Flank 1 (T1)", "Flank 2 (T5)", "Flank 3 (T7)", "Flank 4 (T9)", "Shoulder (T12)"], "paddingInner": 0, "paddingOuter": 0.1667, "align": 1}, "axis": null}, "x2": {"datum": "Shoulder (T12)", "bandPosition": 1}, "y": {"datum": 3.49, "type": "quantitative", "scale": {"domain": [-1.5, 3.6], "reverse": true, "nice": false, "zero": false}, "axis": null}}},
                    {"data": {"values": [{}]}, "mark": {"type": "rule", "strokeWidth": 3, "color": "#000000"}, "encoding": {"x": {"datum": "Uncertain Parameter", "type": "nominal", "bandPosition": 0, "scale": {"type": "band", "domain": ["Uncertain Parameter", "Flank 1 (T1)", "Flank 2 (T5)", "Flank 3 (T7)", "Flank 4 (T9)", "Shoulder (T12)"], "paddingInner": 0, "paddingOuter": 0.1667, "align": 1}, "axis": null}, "x2": {"datum": "Shoulder (T12)", "bandPosition": 1}, "y": {"datum": 3.575, "type": "quantitative", "scale": {"domain": [-1.5, 3.6], "reverse": true, "nice": false, "zero": false}, "axis": null}}},
                    {
                      "data": {"values": [{"c": "Flank 1 (T1)"}, {"c": "Flank 2 (T5)"}, {"c": "Flank 3 (T7)"}, {"c": "Flank 4 (T9)"}, {"c": "Shoulder (T12)"}]},
                      "mark": {"type": "text", "font": "Liberation Serif", "fontSize": 32, "fontWeight": "bold", "baseline": "middle", "dy": 0, "color": "#000000"},
                      "encoding": {
                        "x": {"field": "c", "type": "nominal", "scale": {"type": "band", "domain": ["Uncertain Parameter", "Flank 1 (T1)", "Flank 2 (T5)", "Flank 3 (T7)", "Flank 4 (T9)", "Shoulder (T12)"], "paddingInner": 0, "paddingOuter": 0.1667, "align": 1}, "axis": null},
                        "y": {"datum": -0.42, "type": "quantitative", "scale": {"domain": [-1.5, 3.6], "reverse": true, "nice": false, "zero": false}, "axis": null},
                        "text": {"field": "c"}
                      }
                    },
                    {
                      "data": {"values": [{"c": "Uncertain Parameter", "h": "Uncertain\nParameter"}]},
                      "mark": {"type": "text", "font": "Liberation Serif", "fontSize": 32, "fontWeight": "bold", "lineBreak": "\n", "lineHeight": 39, "baseline": "middle", "dy": 1, "color": "#000000"},
                      "encoding": {
                        "x": {"field": "c", "type": "nominal", "scale": {"type": "band", "domain": ["Uncertain Parameter", "Flank 1 (T1)", "Flank 2 (T5)", "Flank 3 (T7)", "Flank 4 (T9)", "Shoulder (T12)"], "paddingInner": 0, "paddingOuter": 0.1667, "align": 1}, "axis": null},
                        "y": {"datum": -0.85, "type": "quantitative", "scale": {"domain": [-1.5, 3.6], "reverse": true, "nice": false, "zero": false}, "axis": null},
                        "text": {"field": "h"}
                      }
                    },
                    {
                      "data": {"values": [
                        {"r": 1, "c": "Flank 1 (T1)", "v": "87.7%"}, {"r": 1, "c": "Flank 2 (T5)", "v": "87.9%"}, {"r": 1, "c": "Flank 3 (T7)", "v": "87.6%"}, {"r": 1, "c": "Flank 4 (T9)", "v": "88.0%"}, {"r": 1, "c": "Shoulder (T12)", "v": "7.1%"},
                        {"r": 2, "c": "Flank 1 (T1)", "v": "10.7%"}, {"r": 2, "c": "Flank 2 (T5)", "v": "10.8%"}, {"r": 2, "c": "Flank 3 (T7)", "v": "10.8%"}, {"r": 2, "c": "Flank 4 (T9)", "v": "10.6%"}, {"r": 2, "c": "Shoulder (T12)", "v": "92.9%"},
                        {"r": 3, "c": "Flank 1 (T1)", "v": "1.6%"}, {"r": 3, "c": "Flank 2 (T5)", "v": "1.3%"}, {"r": 3, "c": "Flank 3 (T7)", "v": "1.6%"}, {"r": 3, "c": "Flank 4 (T9)", "v": "1.4%"}, {"r": 3, "c": "Shoulder (T12)", "v": "0.2%"}
                      ]},
                      "mark": {"type": "text", "font": "Liberation Serif", "fontSize": 30, "baseline": "middle", "dy": 1, "color": "#000000"},
                      "encoding": {
                        "x": {"field": "c", "type": "nominal", "scale": {"type": "band", "domain": ["Uncertain Parameter", "Flank 1 (T1)", "Flank 2 (T5)", "Flank 3 (T7)", "Flank 4 (T9)", "Shoulder (T12)"], "paddingInner": 0, "paddingOuter": 0.1667, "align": 1}, "axis": null},
                        "y": {"field": "r", "type": "quantitative", "scale": {"domain": [-1.5, 3.6], "reverse": true, "nice": false, "zero": false}, "axis": null},
                        "text": {"field": "v"}
                      }
                    },
                    {
                      "data": {"name": "t2lab"},
                      "mark": {"type": "text", "font": "Liberation Serif", "fontSize": 30, "align": "left", "baseline": "middle", "dx": -101, "dy": 1, "color": "#000000"},
                      "encoding": {
                        "x": {"datum": "Uncertain Parameter", "type": "nominal", "scale": {"type": "band", "domain": ["Uncertain Parameter", "Flank 1 (T1)", "Flank 2 (T5)", "Flank 3 (T7)", "Flank 4 (T9)", "Shoulder (T12)"], "paddingInner": 0, "paddingOuter": 0.1667, "align": 1}, "axis": null},
                        "y": {"field": "r", "type": "quantitative", "scale": {"domain": [-1.5, 3.6], "reverse": true, "nice": false, "zero": false}, "axis": null},
                        "text": {"field": "p"}
                      }
                    },
                    {
                      "data": {"name": "t2lab"},
                      "transform": [{"filter": "datum.p === 'ρ'"}],
                      "mark": {"type": "text", "font": "Liberation Serif", "fontSize": 20, "align": "left", "baseline": "middle", "dx": -85, "dy": 9, "color": "#000000"},
                      "encoding": {
                        "x": {"datum": "Uncertain Parameter", "type": "nominal", "scale": {"type": "band", "domain": ["Uncertain Parameter", "Flank 1 (T1)", "Flank 2 (T5)", "Flank 3 (T7)", "Flank 4 (T9)", "Shoulder (T12)"], "paddingInner": 0, "paddingOuter": 0.1667, "align": 1}, "axis": null},
                        "y": {"field": "r", "type": "quantitative", "scale": {"domain": [-1.5, 3.6], "reverse": true, "nice": false, "zero": false}, "axis": null},
                        "text": {"field": "s"}
                      }
                    },
                    {
                      "data": {"name": "t2lab"},
                      "transform": [{"filter": "datum.p === 'V'"}],
                      "mark": {"type": "text", "font": "Liberation Serif", "fontSize": 20, "align": "left", "baseline": "middle", "dx": -79, "dy": 9, "color": "#000000"},
                      "encoding": {
                        "x": {"datum": "Uncertain Parameter", "type": "nominal", "scale": {"type": "band", "domain": ["Uncertain Parameter", "Flank 1 (T1)", "Flank 2 (T5)", "Flank 3 (T7)", "Flank 4 (T9)", "Shoulder (T12)"], "paddingInner": 0, "paddingOuter": 0.1667, "align": 1}, "axis": null},
                        "y": {"field": "r", "type": "quantitative", "scale": {"domain": [-1.5, 3.6], "reverse": true, "nice": false, "zero": false}, "axis": null},
                        "text": {"field": "s"}
                      }
                    }
                  ]
                },
                {
                  "width": 1390, "height": 267,
                  "data": {"values": [
                    {"b": 1, "t": "Freestream density is the main contributor to wall heat flux,\nshear, and pressure uncertainties"},
                    {"b": 2, "t": "CO₂-CO₂ collision interaction important in the wall heat flux and\nshear uncertainties – affects transport properties"},
                    {"b": 3, "t": "HIAD deformation is particularly significant in the wall pressure\nuncertainty – due to structural uncertainties"}
                  ]},
                  "layer": [
                    {
                      "mark": {"type": "text", "align": "left", "baseline": "top", "font": "Liberation Sans", "fontWeight": "bold", "fontSize": 43, "lineBreak": "\n", "lineHeight": 50, "dx": 71, "color": "#000000"},
                      "encoding": {
                        "x": {"datum": 0, "type": "quantitative", "scale": {"domain": [0, 1]}, "axis": null},
                        "y": {"field": "b", "type": "ordinal", "scale": {"type": "point", "padding": 0}, "axis": null},
                        "text": {"field": "t"}
                      }
                    },
                    {
                      "mark": {"type": "text", "align": "left", "baseline": "top", "font": "Liberation Sans", "fontWeight": "bold", "fontSize": 43, "text": "•", "color": "#000000"},
                      "encoding": {
                        "x": {"datum": 0, "type": "quantitative", "scale": {"domain": [0, 1]}, "axis": null},
                        "y": {"field": "b", "type": "ordinal", "scale": {"type": "point", "padding": 0}, "axis": null}
                      }
                    }
                  ]
                }
              ]
            }
          ]
        }
      ]
    }
  ],
  "config": {
    "view": {"stroke": null},
    "font": "Liberation Sans",
    "axis": {"labelFont": "Liberation Sans", "labelFontSize": 23, "labelColor": "#000000", "titleFont": "Liberation Sans", "titleFontSize": 28, "titleFontWeight": "bold", "titleColor": "#000000", "tickColor": "#000000", "tickWidth": 2, "domainColor": "#000000", "domainWidth": 3, "grid": false, "labelFlush": false, "labelOverlap": false},
    "legend": {"labelFont": "Liberation Sans", "labelFontSize": 24, "labelFontWeight": "bold", "labelColor": "#000000", "labelOffset": 7, "labelLimit": 600, "rowPadding": 5, "padding": 0, "symbolSize": 144, "symbolStrokeWidth": 2.5, "direction": "vertical"},
    "title": {"font": "Liberation Sans", "fontSize": 42, "fontWeight": "bold", "color": "#000000", "anchor": "middle"},
    "text": {"color": "#000000"}
  }
}
